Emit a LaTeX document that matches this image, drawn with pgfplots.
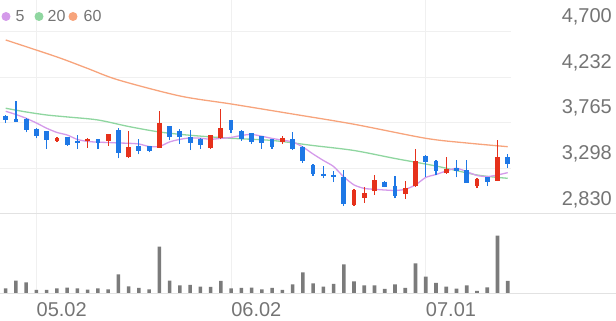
\documentclass[border=0pt]{standalone}
\usepackage{fontspec}
\setmainfont{Liberation Sans}
\usepackage{pgfplots}
\pgfplotsset{compat=1.18}
\definecolor{cred}{HTML}{E6311B}
\definecolor{cblue}{HTML}{1E78E6}
\definecolor{ma5c}{HTML}{D49AEA}
\definecolor{ma20c}{HTML}{8FD6A0}
\definecolor{ma60c}{HTML}{F7A47C}
\definecolor{volc}{HTML}{7B7B7B}
\definecolor{gridc}{HTML}{F0F0F0}
\definecolor{basec}{HTML}{E2E2E2}
\definecolor{txtc}{HTML}{747474}
\begin{document}
\begin{tikzpicture}
\path[use as bounding box] (0pt,0pt) rectangle (616pt,321pt);
% ---------- price panel ----------
\begin{axis}[
  at={(0pt,321pt)}, anchor=north west,
  width=511pt, height=213.9pt, scale only axis,
  xmin=-0.556, xmax=49.32, ymin=2830, ymax=5022.9,
  axis line style={draw=none}, major tick length=0pt,
  xtick={3,22,41}, xticklabels={},
  xmajorgrids, ymajorgrids,
  grid style={color=gridc, line width=0.8pt},
  ytick={2830,3298,3765,4232,4700},
  yticklabels={{2,830},{3,298},{3,765},{4,232},{4,700}},
  yticklabel pos=right,
  yticklabel style={anchor=east, inner sep=0pt, xshift=101pt, yshift=14.5pt,
    font=\fontsize{20}{24}\selectfont, text=txtc},
  unbounded coords=jump,
]
% MA60
\addplot[ma60c, line width=1.3pt, smooth, mark=none] coordinates {
(0,4613) (5,4439) (8,4321) (11,4203) (17,4039) (22,3957) (28,3854) (34,3749) (41,3605) (45,3557) (49,3519)};
% MA20
\addplot[ma20c, line width=1.3pt, smooth, mark=none] coordinates {
(0,3913) (2,3875) (4,3844) (6,3824) (9,3793) (12,3726) (15,3670) (18,3636) (22,3605) (26,3583) (30,3531) (34,3480) (38,3398) (42,3321) (46,3229) (49,3195)};
% MA5
\addplot[ma5c, line width=1.3pt, smooth, tension=0.4, mark=none] coordinates {
(0,3882) (1,3849) (2,3810) (3,3762) (4,3708) (5,3665) (6,3639) (7,3593) (8,3573) (9,3565)
(10,3562) (11,3557) (12,3554) (13,3547) (14,3521) (15,3521) (16,3568) (17,3594) (18,3609) (19,3606)
(20,3595) (21,3604) (22,3614) (23,3634) (24,3645) (25,3626) (26,3604) (27,3586) (28,3568) (29,3516)
(30,3444) (31,3378) (32,3316) (33,3209) (34,3127) (35,3091) (36,3082) (37,3075) (38,3070) (39,3082)
(40,3127) (41,3204) (42,3234) (43,3270) (44,3298) (45,3263) (46,3224) (47,3212) (48,3229) (49,3253)};
% red wicks (low, high)
\addplot[cred, line width=1.2pt, mark=none] coordinates {
(5,3565) (5,3620) (5,nan) (8,3510) (8,3605) (8,nan) (10,3530) (10,3650) (10,nan)
(12,3405) (12,3680) (12,nan) (15,3505) (15,3890) (15,nan) (20,3500) (20,3640) (20,nan)
(21,3600) (21,3905) (21,nan) (27,3545) (27,3630) (27,nan) (34,2910) (34,3085) (34,nan)
(35,2945) (35,3110) (35,nan) (36,3025) (36,3230) (36,nan) (39,2985) (39,3170) (39,nan)
(40,3110) (40,3495) (40,nan) (43,3240) (43,3415) (43,nan) (46,3095) (46,3195) (46,nan)
(48,3165) (48,3585)};
% red bodies (open, close)
\addplot[cred, line width=4.8pt, mark=none] coordinates {
(5,3580) (5,3605) (5,nan) (8,3580) (8,3595) (8,nan) (10,3580) (10,3645) (10,nan)
(12,3410) (12,3520) (12,nan) (15,3510) (15,3760) (15,nan) (20,3505) (20,3635) (20,nan)
(21,3605) (21,3715) (21,nan) (27,3570) (27,3610) (27,nan) (34,2925) (34,3075) (34,nan)
(35,2995) (35,3040) (35,nan) (36,3060) (36,3180) (36,nan) (39,3035) (39,3095) (39,nan)
(40,3115) (40,3370) (40,nan) (43,3245) (43,3290) (43,nan) (46,3115) (46,3190) (46,nan)
(48,3170) (48,3410)};
% blue wicks (low, high)
\addplot[cblue, line width=1.2pt, mark=none] coordinates {
(0,3760) (0,3840) (0,nan) (1,3770) (1,3990) (1,nan) (2,3665) (2,3810) (2,nan)
(3,3605) (3,3710) (3,nan) (4,3500) (4,3680) (4,nan) (6,3530) (6,3620) (6,nan)
(7,3495) (7,3635) (7,nan) (9,3495) (9,3600) (9,nan) (11,3400) (11,3710) (11,nan)
(13,3440) (13,3595) (13,nan) (14,3460) (14,3530) (14,nan) (16,3585) (16,3735) (16,nan)
(17,3545) (17,3705) (17,nan) (18,3485) (18,3695) (18,nan) (19,3495) (19,3605) (19,nan)
(22,3655) (22,3795) (22,nan) (23,3580) (23,3690) (23,nan) (24,3545) (24,3660) (24,nan)
(25,3500) (25,3630) (25,nan) (26,3500) (26,3600) (26,nan) (28,3485) (28,3665) (28,nan)
(29,3355) (29,3525) (29,nan) (30,3220) (30,3340) (30,nan) (31,3195) (31,3320) (31,nan)
(32,3155) (32,3265) (32,nan) (33,2910) (33,3275) (33,nan) (37,3105) (37,3165) (37,nan)
(38,2990) (38,3220) (38,nan) (41,3210) (41,3430) (41,nan) (42,3225) (42,3380) (42,nan)
(44,3205) (44,3385) (44,nan) (45,3150) (45,3385) (45,nan) (47,3115) (47,3210) (47,nan)
(49,3300) (49,3440)};
% blue bodies (open, close)
\addplot[cblue, line width=4.8pt, mark=none] coordinates {
(0,3835) (0,3795) (0,nan) (1,3805) (1,3775) (1,nan) (2,3805) (2,3685) (2,nan)
(3,3705) (3,3630) (3,nan) (4,3675) (4,3585) (4,nan) (6,3615) (6,3535) (6,nan)
(7,3575) (7,3555) (7,nan) (9,3595) (9,3555) (9,nan) (11,3685) (11,3450) (11,nan)
(13,3530) (13,3470) (13,nan) (14,3525) (14,3470) (14,nan) (16,3730) (16,3620) (16,nan)
(17,3675) (17,3615) (17,nan) (18,3620) (18,3560) (18,nan) (19,3600) (19,3535) (19,nan)
(22,3790) (22,3695) (22,nan) (23,3680) (23,3600) (23,nan) (24,3655) (24,3570) (24,nan)
(25,3625) (25,3555) (25,nan) (26,3595) (26,3520) (26,nan) (28,3595) (28,3495) (28,nan)
(29,3520) (29,3370) (29,nan) (30,3330) (30,3240) (30,nan) (31,3240) (31,3220) (31,nan)
(32,3230) (32,3210) (32,nan) (33,3205) (33,2930) (33,nan) (37,3160) (37,3110) (37,nan)
(38,3115) (38,3010) (38,nan) (41,3425) (41,3365) (41,nan) (42,3375) (42,3265) (42,nan)
(44,3300) (44,3270) (44,nan) (45,3280) (45,3150) (45,nan) (47,3205) (47,3155) (47,nan)
(49,3410) (49,3345)};
\end{axis}
% ---------- volume panel ----------
\begin{axis}[
  at={(0pt,107.1pt)}, anchor=north west,
  width=511pt, height=79.4pt, scale only axis,
  xmin=-0.556, xmax=49.32, ymin=0, ymax=1191000,
  axis line style={draw=none}, major tick length=0pt,
  ytick=\empty, scaled y ticks=false,
  xtick={3,22,41}, xticklabels={05.02,06.02,07.01},
  xticklabel style={anchor=north west, inner sep=0pt, yshift=-9.4pt,
    font=\fontsize{20}{24}\selectfont, text=txtc},
  xmajorgrids, grid style={color=gridc, line width=0.8pt},
]
\addplot[ybar, bar width=3.6pt, bar shift=0pt, fill=volc, draw=none] coordinates {
(0,75000) (1,190000) (2,165000) (3,50000) (4,50000) (5,75000) (6,85000) (7,75000) (8,55000) (9,75000)
(10,60000) (11,285000) (12,105000) (13,80000) (14,60000) (15,700000) (16,190000) (17,120000) (18,125000) (19,100000)
(20,95000) (21,185000) (22,75000) (23,80000) (24,85000) (25,60000) (26,80000) (27,50000) (28,135000) (29,315000)
(30,150000) (31,100000) (32,140000) (33,435000) (34,180000) (35,120000) (36,120000) (37,65000) (38,135000) (39,80000)
(40,450000) (41,250000) (42,155000) (43,100000) (44,70000) (45,120000) (46,35000) (47,90000) (48,865000) (49,185000)};
\end{axis}
% panel base lines
\draw[basec, line width=0.8pt] (0pt,107.1pt) -- (616pt,107.1pt);
\draw[basec, line width=0.8pt] (0pt,27.7pt) -- (616pt,27.7pt);
% legend
\fill[ma5c] (6pt,304.5pt) circle (4.5pt);
\node[anchor=base west, inner sep=0pt, font=\fontsize{16}{18}\selectfont, text=txtc] at (15.5pt,299.5pt) {5};
\fill[ma20c] (39pt,304.5pt) circle (4.5pt);
\node[anchor=base west, inner sep=0pt, font=\fontsize{16}{18}\selectfont, text=txtc] at (47.5pt,299.5pt) {20};
\fill[ma60c] (73pt,304.5pt) circle (4.5pt);
\node[anchor=base west, inner sep=0pt, font=\fontsize{16}{18}\selectfont, text=txtc] at (83.5pt,299.5pt) {60};
\end{tikzpicture}
\end{document}
